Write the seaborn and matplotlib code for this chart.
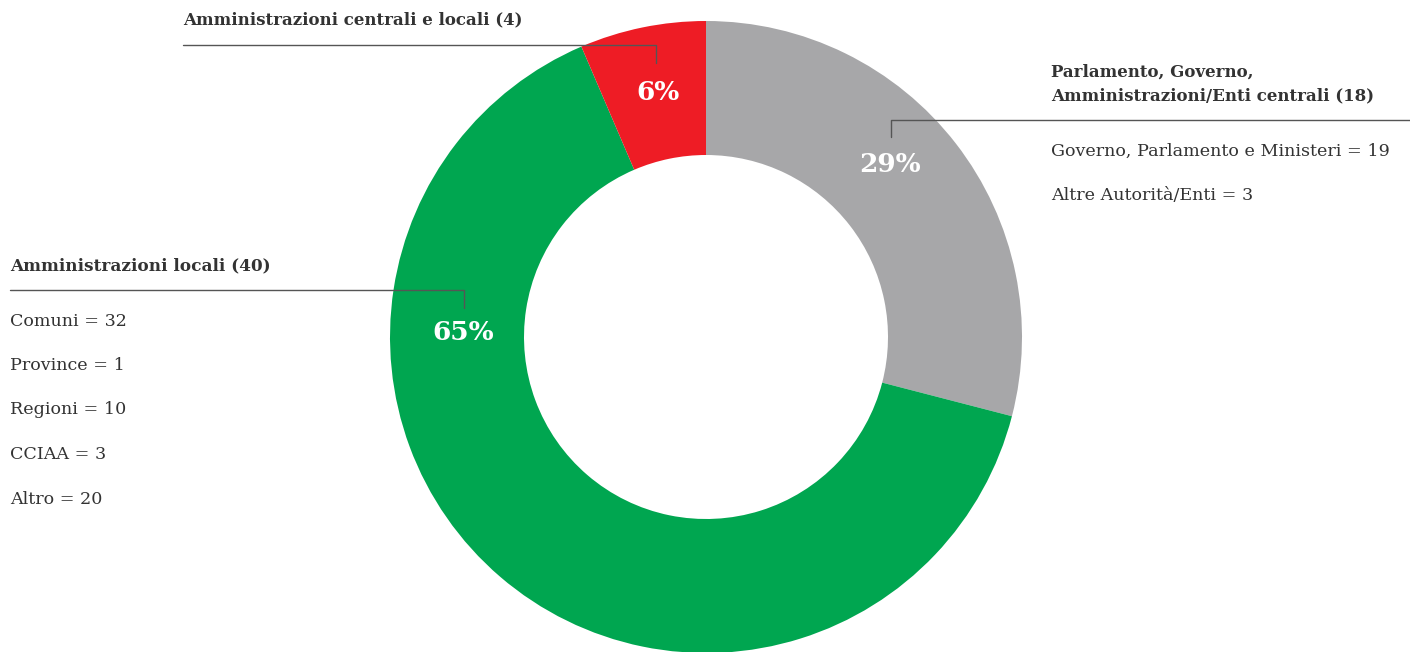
import matplotlib
matplotlib.use("Agg")
import matplotlib.pyplot as plt
import seaborn as sns

# dati
categorie = ["Parlamento, Governo,\nAmministrazioni/Enti centrali (18)",
             "Amministrazioni locali (40)",
             "Amministrazioni centrali e locali (4)"]
valori = [18, 40, 4]
percentuali = ["29%", "65%", "6%"]
colori = ["#a7a7a9", "#00a650", "#ee1c25"]

dettaglio_centrali = ["Governo, Parlamento e Ministeri = 19", "Altre Autorità/Enti = 3"]
dettaglio_locali = ["Comuni = 32", "Province = 1", "Regioni = 10", "CCIAA = 3", "Altro = 20"]

sns.set_theme(style="white")
plt.rcParams["font.family"] = ["DejaVu Serif"]

W, H = 1410, 652
fig = plt.figure(figsize=(W / 100, H / 100), dpi=100)

# donut
ax2 = fig.add_axes([0, 0, 1, 1])
cx, cy, r = 706, H - 337, 316
ax2.pie(valori, colors=sns.color_palette(colori), startangle=90, counterclock=False,
        center=(cx, cy), radius=r, frame=True,
        wedgeprops=dict(width=134, linewidth=0))
ax2.set_xlim(0, W)
ax2.set_ylim(0, H)
ax2.axis("off")

# testi e linee sopra il donut
ax = fig.add_axes([0, 0, 1, 1])
ax.set_zorder(3)
ax.patch.set_visible(False)
ax.set_xlim(0, W)
ax.set_ylim(H, 0)
ax.axis("off")

testo = "#333333"
linea = "#555555"

# percentuali
pos_perc = [(890, 165), (463, 333), (658, 93)]
for p, (x, y) in zip(percentuali, pos_perc):
    ax.text(x, y, p, color="white", fontsize=19, fontweight="bold", ha="center", va="center")

# linee guida
ax.plot([183, 656, 656], [45, 45, 63], color=linea, lw=1)
ax.plot([1410, 891, 891], [120, 120, 137], color=linea, lw=1)
ax.plot([10, 464, 464], [290, 290, 308], color=linea, lw=1)

# etichette
ax.text(183, 20, categorie[2], color=testo, fontsize=12, fontweight="bold", va="center")
ax.text(1051, 84, categorie[0], color=testo, fontsize=12, fontweight="bold", va="center",
        linespacing=1.45)
ax.text(10, 266, categorie[1], color=testo, fontsize=12.2, fontweight="bold", va="center")

for i, t in enumerate(dettaglio_centrali):
    ax.text(1051, 151 + i * 44, t, color=testo, fontsize=12.6, va="center")
for i, t in enumerate(dettaglio_locali):
    ax.text(10, 321 + i * 44.5, t, color=testo, fontsize=12.6, va="center")

fig.savefig("out.png", dpi=100, facecolor="white")
